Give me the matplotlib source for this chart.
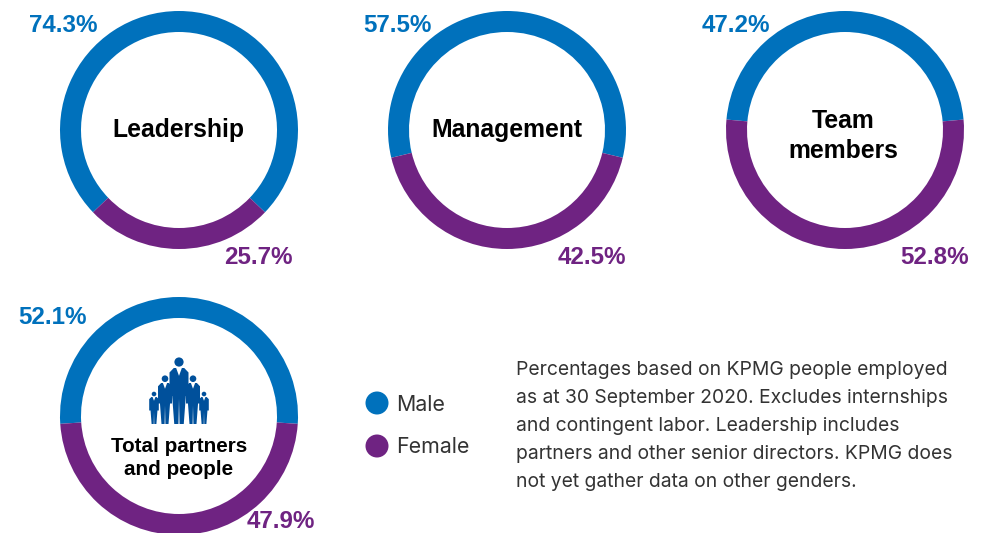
import matplotlib
matplotlib.use("Agg")
import matplotlib.pyplot as plt
from matplotlib.patches import Circle, Polygon

# share of male people in each group, female is the rest
titles = ["Leadership", "Management", "Team\nmembers", "Total partners\nand people"]
male = [74.3, 57.5, 47.2, 52.1]
female = [25.7, 42.5, 52.8, 47.9]
legend_names = ["Male", "Female"]
note = ("Percentages based on KPMG people employed\n"
        "as at 30 September 2020. Excludes internships\n"
        "and contingent labor. Leadership includes\n"
        "partners and other senior directors. KPMG does\n"
        "not yet gather data on other genders.")

BLUE = "#0071bc"
PURPLE = "#6f2382"
ICON = "#00509b"
W, H = 988, 533

centers = [(179, 130), (507, 130), (845, 130), (179, 416)]
male_pos = [(63, 25), (397, 25), (736, 25), (53, 318)]
female_pos = [(258, 257), (592, 257), (935, 257), (281, 522)]
title_pos = [(178, 130), (507, 130), (843, 136), (179, 458)]
R = 119
ring = 21 / 119

fig = plt.figure(figsize=(W / 100, H / 100), dpi=100)

for i in range(4):
    cx, cy = centers[i]
    ax = fig.add_axes([(cx - R) / W, 1 - (cy + R) / H, 2 * R / W, 2 * R / H])
    # blue arc sits centred on 12 o'clock
    start = 90 - male[i] * 1.8
    ax.pie([male[i], female[i]], colors=[BLUE, PURPLE], startangle=start,
           radius=1, wedgeprops=dict(width=ring))
    ax.set_xlim(-1, 1)
    ax.set_ylim(-1, 1)

# overlay in pixel coordinates for text and icon
ov = fig.add_axes([0, 0, 1, 1])
ov.set_xlim(0, W)
ov.set_ylim(H, 0)
ov.axis("off")
ov.patch.set_alpha(0)

SANS = "Liberation Sans"
for i in range(4):
    ov.text(male_pos[i][0], male_pos[i][1], "%.1f%%" % male[i], color=BLUE, fontsize=17.4,
            fontweight="bold", family=SANS, ha="center", va="center")
    ov.text(female_pos[i][0], female_pos[i][1], "%.1f%%" % female[i], color=PURPLE, fontsize=17.4,
            fontweight="bold", family=SANS, ha="center", va="center")
    size = 14.9 if i == 3 else 17.8
    ov.text(title_pos[i][0], title_pos[i][1], titles[i], color="black", fontsize=size,
            fontweight="bold", family=SANS, ha="center", va="center",
            linespacing=1.32 if i == 3 else 1.3)


def person(cx, top, bottom, hw, r):
    # head, then a suit outline and a small white collar
    ov.add_patch(Circle((cx, top - r * 1.3), r, fc=ICON, ec="none"))
    h = bottom - top
    pts = [(cx - hw * 0.55, top), (cx + hw * 0.55, top), (cx + hw, top + h * 0.08),
           (cx + hw, top + h * 0.5), (cx + hw * 0.72, top + h * 0.5),
           (cx + hw * 0.5, bottom), (cx + hw * 0.06, bottom), (cx, top + h * 0.55),
           (cx - hw * 0.06, bottom), (cx - hw * 0.5, bottom), (cx - hw * 0.72, top + h * 0.5),
           (cx - hw, top + h * 0.5), (cx - hw, top + h * 0.08)]
    ov.add_patch(Polygon(pts, closed=True, fc=ICON, ec="none"))
    ov.add_patch(Polygon([(cx - hw * 0.3, top), (cx + hw * 0.3, top), (cx, top + h * 0.14)],
                         closed=True, fc="white", ec="none"))


person(154, 397, 424, 4.8, 2.3)
person(204, 397, 424, 4.8, 2.3)
person(165, 383, 424, 7, 3.3)
person(193, 383, 424, 7, 3.3)
person(179, 368, 424, 9.5, 4.6)

# legend dots and labels
ov.add_patch(Circle((377, 403), 11.5, fc=BLUE, ec="none"))
ov.add_patch(Circle((377, 446), 11.5, fc=PURPLE, ec="none"))
ov.text(396, 405, legend_names[0], color="#333333", fontsize=15.4, family="Inter",
        ha="left", va="center")
ov.text(396, 447, legend_names[1], color="#333333", fontsize=15.4, family="Inter",
        ha="left", va="center")

ov.text(516, 426, note, color="#333333", fontsize=13.9, family="Inter",
        ha="left", va="center", linespacing=1.7)

fig.savefig("out.png", dpi=100)
